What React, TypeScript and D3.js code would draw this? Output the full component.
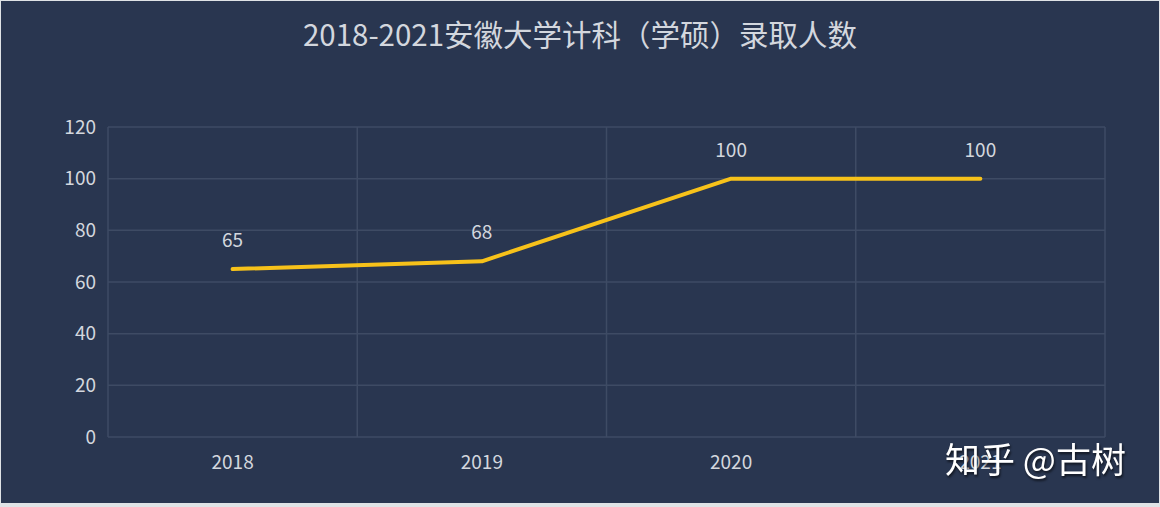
import React from "react";
import * as d3 from "d3";

const categories = ["2018", "2019", "2020", "2021"];
const values = [65, 68, 100, 100];
const yTicks = [0, 20, 40, 60, 80, 100, 120];
const title = "2018-2021安徽大学计科（学硕）录取人数";
const watermark = "知乎 @古树";

const W = 1160;
const H = 507;
const M = { left: 108, right: 1105, top: 127, bottom: 437 };
const FONT = "'Noto Sans CJK SC', 'Microsoft YaHei', 'Noto Sans', sans-serif";

export default function App() {
  const x = d3.scaleBand<string>().domain(categories).range([M.left, M.right]);
  const y = d3.scaleLinear().domain([0, 120]).range([M.bottom, M.top]);
  const cx = (c: string) => (x(c) as number) + x.bandwidth() / 2;
  const line = d3
    .line<number>()
    .x((_, i) => cx(categories[i]))
    .y((d) => y(d));
  const gridColor = "#3e4b64";
  const textColor = "#d3d7de";
  const bounds = [...categories.map((c) => x(c) as number), M.right];

  return (
    <div style={{ position: "fixed", left: 0, top: 0 }}>
      <svg width={W} height={H} style={{ display: "block" }}>
        <rect x={0} y={0} width={W} height={H} fill="#dfe3e6" />
        <rect x={1} y={1} width={W - 2} height={H - 5} fill="#293650" />
        <text x={580} y={46} textAnchor="middle" fill={textColor} fontSize={29.5} fontFamily={FONT}>
          {title}
        </text>
        {yTicks.map((t) => (
          <g key={t}>
            <line x1={M.left} x2={M.right} y1={y(t)} y2={y(t)} stroke={gridColor} strokeWidth={1.5} />
            <text x={96} y={y(t) + 6.5} textAnchor="end" fill={textColor} fontSize={19} fontFamily={FONT}>
              {t}
            </text>
          </g>
        ))}
        {bounds.map((b, i) => (
          <line key={i} x1={b} x2={b} y1={M.top} y2={M.bottom} stroke={gridColor} strokeWidth={1.5} />
        ))}
        {categories.map((c) => (
          <text key={c} x={cx(c)} y={469} textAnchor="middle" fill={textColor} fontSize={19} fontFamily={FONT}>
            {c}
          </text>
        ))}
        <path d={line(values) || ""} fill="none" stroke="#f7c21a" strokeWidth={4} strokeLinecap="round" strokeLinejoin="round" />
        {values.map((v, i) => (
          <text key={i} x={cx(categories[i])} y={y(v) - 22} textAnchor="middle" fill={textColor} fontSize={19} fontFamily={FONT}>
            {v}
          </text>
        ))}
        <text x={945} y={473} fill="#ffffff" fontSize={35} fontFamily={FONT} style={{ filter: "drop-shadow(1px 2px 1px rgba(0,0,0,0.6))" }}>
          {watermark}
        </text>
      </svg>
    </div>
  );
}
